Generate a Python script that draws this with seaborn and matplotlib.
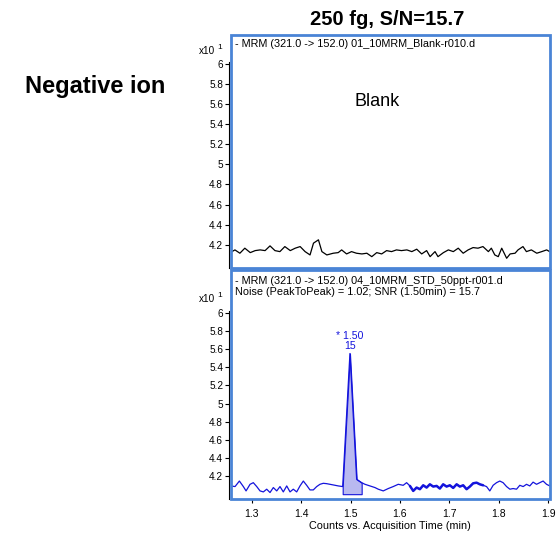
"""MRM chromatograms: blank vs 250 fg standard, negative ion."""

import pandas as pd
import seaborn as sns
import matplotlib.pyplot as plt
from matplotlib.patches import Rectangle

# Blank trace (x10^1 counts vs min)
blank_time = [1.260, 1.266, 1.276, 1.286, 1.297, 1.307, 1.317, 1.327, 1.337, 1.347,
              1.357, 1.367, 1.378, 1.388, 1.398, 1.408, 1.418, 1.425, 1.435, 1.442,
              1.452, 1.465, 1.475, 1.482, 1.492, 1.502, 1.512, 1.523, 1.533, 1.543,
              1.553, 1.563, 1.573, 1.583, 1.593, 1.603, 1.614, 1.624, 1.634, 1.644,
              1.654, 1.661, 1.671, 1.677, 1.688, 1.698, 1.708, 1.718, 1.728, 1.738,
              1.748, 1.758, 1.768, 1.779, 1.785, 1.792, 1.799, 1.806, 1.816, 1.823,
              1.833, 1.839, 1.849, 1.856, 1.866, 1.877, 1.887, 1.897, 1.903]
blank_signal = [4.133, 4.150, 4.117, 4.167, 4.123, 4.143, 4.150, 4.143, 4.190, 4.143,
                4.133, 4.183, 4.143, 4.167, 4.183, 4.133, 4.100, 4.217, 4.250, 4.133,
                4.100, 4.117, 4.123, 4.150, 4.110, 4.133, 4.117, 4.110, 4.117, 4.083,
                4.123, 4.110, 4.143, 4.133, 4.150, 4.143, 4.150, 4.133, 4.157, 4.110,
                4.143, 4.083, 4.133, 4.083, 4.123, 4.150, 4.133, 4.167, 4.117, 4.150,
                4.173, 4.167, 4.183, 4.133, 4.167, 4.100, 4.083, 4.167, 4.067, 4.110,
                4.117, 4.150, 4.183, 4.133, 4.150, 4.117, 4.133, 4.150, 4.133]

# 50 ppt standard trace
std_time = [1.2575, 1.2662, 1.2750, 1.2830, 1.2885, 1.2966, 1.3032, 1.3101, 1.3168, 1.3235,
            1.3303, 1.3370, 1.3437, 1.3506, 1.3572, 1.3639, 1.3708, 1.3775, 1.3841, 1.3910,
            1.3977, 1.4044, 1.4112, 1.4179, 1.4246, 1.4315, 1.4381, 1.4448, 1.4517, 1.4583,
            1.4650, 1.4752, 1.4841, 1.4988, 1.5124, 1.5225, 1.5292, 1.5393, 1.5494, 1.5561,
            1.5662, 1.5763, 1.5864, 1.5966, 1.6066, 1.6135, 1.6202, 1.6269, 1.6337, 1.6404,
            1.6471, 1.6540, 1.6606, 1.6673, 1.6742, 1.6808, 1.6875, 1.6944, 1.7010, 1.7078,
            1.7147, 1.7213, 1.7280, 1.7349, 1.7415, 1.7482, 1.7551, 1.7617, 1.7684, 1.7753,
            1.7819, 1.7886, 1.7955, 1.8021, 1.8088, 1.8158, 1.8225, 1.8291, 1.8360, 1.8426,
            1.8494, 1.8562, 1.8628, 1.8695, 1.8765, 1.8831, 1.8898, 1.8967, 1.9034]
std_signal = [4.091, 4.084, 4.145, 4.084, 4.036, 4.109, 4.127, 4.084, 4.036, 4.025,
              4.055, 4.018, 4.073, 4.036, 4.084, 4.025, 4.091, 4.025, 4.055, 4.025,
              4.091, 4.145, 4.098, 4.047, 4.047, 4.084, 4.109, 4.120, 4.116, 4.109,
              4.102, 4.091, 4.084, 5.553, 4.164, 4.127, 4.109, 4.091, 4.073, 4.055,
              4.036, 4.062, 4.084, 4.109, 4.098, 4.127, 4.091, 4.036, 4.073, 4.055,
              4.098, 4.073, 4.109, 4.084, 4.091, 4.062, 4.109, 4.084, 4.098, 4.069,
              4.109, 4.084, 4.098, 4.055, 4.084, 4.120, 4.127, 4.109, 4.098, 4.084,
              4.036, 4.098, 4.127, 4.145, 4.127, 4.084, 4.055, 4.062, 4.055, 4.098,
              4.084, 4.109, 4.091, 4.133, 4.109, 4.127, 4.145, 4.109, 4.091]

peak_start = 1.4841
peak_end = 1.5225
peak_base = 4.0
peak_rt = "1.50"
peak_area = "15"

x_ticks = [1.3, 1.4, 1.5, 1.6, 1.7, 1.8, 1.9]
x_labels = ["1.3", "1.4", "1.5", "1.6", "1.7", "1.8", "1.9"]
y_ticks = [4.2, 4.4, 4.6, 4.8, 5.0, 5.2, 5.4, 5.6, 5.8, 6.0]
y_labels = ["4.2", "4.4", "4.6", "4.8", "5", "5.2", "5.4", "5.6", "5.8", "6"]

blank_header = "- MRM (321.0 -> 152.0) 01_10MRM_Blank-r010.d"
std_header = ("- MRM (321.0 -> 152.0) 04_10MRM_STD_50ppt-r001.d\n"
              "Noise (PeakToPeak) = 1.02; SNR (1.50min) = 15.7")

FRAME = "#4a84d6"
TRACE = "#1414dc"


def style_axes(ax, ylim, exp_y):
    ax.set_xlim(1.2575, 1.9035)
    ax.set_ylim(*ylim)
    for side in ["top", "right", "bottom"]:
        ax.spines[side].set_visible(False)
    ax.spines["left"].set_color("black")
    ax.spines["left"].set_linewidth(0.8)
    ax.spines["left"].set_position(("outward", 1.5))
    ax.spines["left"].set_bounds(ylim[0], 6.02)
    ax.add_patch(Rectangle((0, 0), 1, 1, transform=ax.transAxes, fill=False,
                           edgecolor=FRAME, linewidth=2.0, clip_on=False, zorder=5))
    ax.set_yticks(y_ticks)
    ax.set_yticklabels(y_labels)
    ax.set_xticks(x_ticks)
    ax.tick_params(axis="y", left=True, direction="out", length=3, width=0.8,
                   pad=1, labelsize=7.2, color="black", labelcolor="black")
    ax.tick_params(axis="x", bottom=True, direction="out", length=3, width=0.8,
                   pad=4, labelsize=7.5, color="black", labelcolor="black")
    ax.set_xlabel("")
    ax.set_ylabel("")
    ytrans = ax.get_yaxis_transform()
    ax.text(-0.05, exp_y, "x10", transform=ytrans, ha="right", va="center", fontsize=7.2)
    ax.text(-0.042, exp_y + 0.03, "1", transform=ytrans, ha="left", va="center",
            fontsize=6)


def main() -> None:
    sns.set_style("white")
    plt.rcParams["font.family"] = ["Liberation Sans", "DejaVu Sans"]
    plt.rcParams["text.color"] = "black"
    plt.rcParams["axes.labelcolor"] = "black"

    blank_df = pd.DataFrame({"time": blank_time, "signal": blank_signal})
    std_df = pd.DataFrame({"time": std_time, "signal": std_signal})

    fig = plt.figure(figsize=(5.56, 5.35), dpi=100)
    ax_top = fig.add_axes([0.415, 0.499, 0.574, 0.435])
    ax_bot = fig.add_axes([0.415, 0.067, 0.574, 0.428])

    # Blank
    sns.lineplot(data=blank_df, x="time", y="signal", ax=ax_top, color="black",
                 linewidth=0.9, sort=False, estimator=None)
    style_axes(ax_top, (3.97, 6.28), 6.125)
    ax_top.set_xticklabels([])
    ax_top.tick_params(axis="x", bottom=False, length=0)
    ax_top.text(0.012, 0.985, blank_header, transform=ax_top.transAxes,
                ha="left", va="top", fontsize=7.8)
    ax_top.text(0.46, 0.715, "Blank", transform=ax_top.transAxes,
                ha="center", va="center", fontsize=13)

    # Standard, integrated peak shaded
    in_peak = (std_df["time"] >= peak_start) & (std_df["time"] <= peak_end)
    peak_df = std_df[in_peak]
    ax_bot.fill_between(peak_df["time"], peak_df["signal"], peak_base,
                        color="#b9b9f0", edgecolor=TRACE, linewidth=0.8, zorder=2)
    sns.lineplot(data=std_df, x="time", y="signal", ax=ax_bot, color=TRACE,
                 linewidth=0.9, sort=False, estimator=None, zorder=3)
    thick = std_df[(std_df["time"] >= 1.62) & (std_df["time"] <= 1.77)]
    sns.lineplot(data=thick, x="time", y="signal", ax=ax_bot, color=TRACE,
                 linewidth=1.8, sort=False, estimator=None, zorder=3)
    style_axes(ax_bot, (3.945, 6.473), 6.16)
    ax_bot.set_xticklabels(x_labels)
    ax_bot.set_xlabel("Counts vs. Acquisition Time (min)", fontsize=7.8, labelpad=1.5)
    ax_bot.text(0.012, 0.975, std_header, transform=ax_bot.transAxes,
                ha="left", va="top", fontsize=7.8, linespacing=1.1)

    top_i = std_df["signal"].idxmax()
    apex_t = std_df.loc[top_i, "time"]
    apex_y = std_df.loc[top_i, "signal"]
    ax_bot.annotate(f"* {peak_rt}\n{peak_area}", xy=(apex_t, apex_y),
                    xytext=(0, 2), textcoords="offset points", ha="center",
                    va="bottom", color=TRACE, fontsize=7.6, linespacing=1.0)

    fig.text(0.696, 0.964, "250 fg, S/N=15.7", ha="center", va="center",
             fontsize=14.5, fontweight="bold")
    fig.text(0.171, 0.838, "Negative ion", ha="center", va="center",
             fontsize=17, fontweight="bold")

    fig.savefig("out.png", dpi=100)
    plt.close(fig)


if __name__ == "__main__":
    main()
